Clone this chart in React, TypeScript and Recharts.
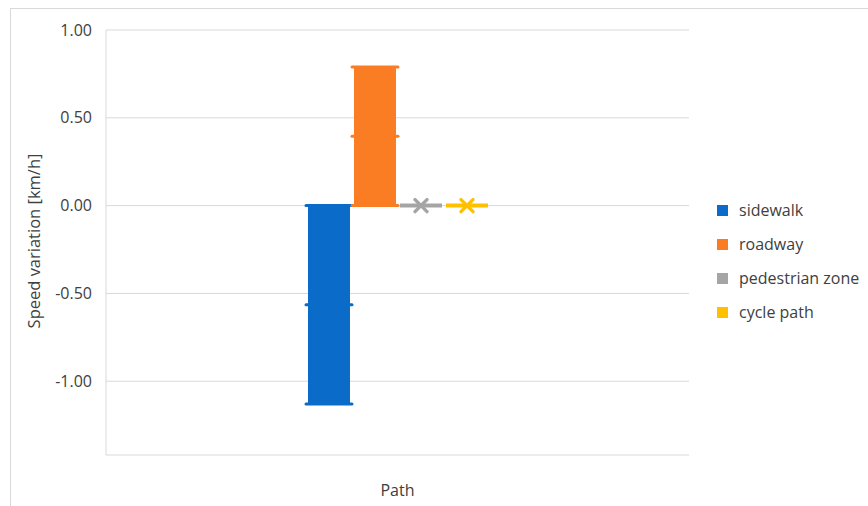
import { BarChart, Bar, XAxis, YAxis, CartesianGrid, Legend } from "recharts";

// values
const categories = ["Path"];
const seriesNames = ["sidewalk", "roadway", "pedestrian zone", "cycle path"];
const sidewalk = [-1.13];
const roadway = [0.79];
const pedestrianZone = [0];
const cyclePath = [0];
const yTicks = [-1, -0.5, 0, 0.5, 1];

const colors = ["#0a6cc8", "#fa7d24", "#a5a5a5", "#ffc000"];
const keys = ["sidewalk", "roadway", "pedestrianZone", "cyclePath"];
const FONT = "'Open Sans', sans-serif";

const data = categories.map((name, i) => ({
  name,
  sidewalk: sidewalk[i],
  roadway: roadway[i],
  pedestrianZone: pedestrianZone[i],
  cyclePath: cyclePath[i],
}));

// bar drawn like Excel thick-line marker style: body + caps, or flat line with an X for zero
const BarShape = (props: any) => {
  const { x, y, width, height, fill } = props;
  const top = Math.min(y, y + height);
  const h = Math.abs(height);
  if (h < 1) {
    const cx = x + width / 2;
    const s = 6;
    return (
      <g>
        <line x1={x} x2={x + width} y1={y} y2={y} stroke={fill} strokeWidth={4} />
        <line x1={cx - s} x2={cx + s} y1={y - s} y2={y + s} stroke={fill} strokeWidth={3.5} strokeLinecap="round" />
        <line x1={cx - s} x2={cx + s} y1={y + s} y2={y - s} stroke={fill} strokeWidth={3.5} strokeLinecap="round" />
      </g>
    );
  }
  const capY = [top, top + h / 2, top + h];
  return (
    <g>
      <rect x={x} y={top} width={width} height={h} fill={fill} />
      {capY.map((cy, i) => (
        <line key={i} x1={x - 2} x2={x + width + 2} y1={cy} y2={cy} stroke={fill} strokeWidth={3} strokeLinecap="round" />
      ))}
    </g>
  );
};

const LegendBox = (props: any) => {
  const items = [...(props.payload || [])].sort(
    (a: any, b: any) => seriesNames.indexOf(a.value) - seriesNames.indexOf(b.value)
  );
  return (
    <div style={{ fontFamily: FONT, fontSize: 16, color: "#404040" }}>
      {items.map((item: any) => (
        <div key={item.value} style={{ display: "flex", alignItems: "center", height: 34 }}>
          <span style={{ display: "inline-block", width: 11, height: 11, background: item.color, marginRight: 11 }} />
          {item.value}
        </div>
      ))}
    </div>
  );
};

export default function App() {
  return (
    <div style={{ position: "absolute", left: 0, top: 0, width: 868, height: 506, overflow: "hidden", background: "#fff" }}>
      <div style={{ position: "absolute", left: 10, top: 8, width: 900, height: 520, border: "1px solid #d9d9d9" }} />
      <div style={{ position: "absolute", left: 0, top: 0 }}>
        <BarChart
          width={868}
          height={506}
          data={data}
          margin={{ top: 30, right: 29, left: 0, bottom: 6 }}
          barSize={42}
          barGap={4}
        >
          <CartesianGrid vertical={false} stroke="#d9d9d9" />
          <XAxis
            dataKey="name"
            tick={false}
            axisLine={false}
            tickLine={false}
            height={45}
            label={{ value: "Path", position: "insideBottom", offset: 4, style: { fontFamily: FONT, fontSize: 16, fill: "#404040" } }}
          />
          <YAxis
            width={106}
            domain={[-1.42, 1]}
            ticks={yTicks}
            tickFormatter={(v: number) => v.toFixed(2)}
            tickSize={0}
            tickMargin={14}
            tickLine={false}
            axisLine={{ stroke: "#d9d9d9" }}
            tick={{ fontFamily: FONT, fontSize: 16, fill: "#404040" }}
            label={{
              content: () => (
                <text
                  x={33}
                  y={241}
                  transform="rotate(-90 33 241)"
                  textAnchor="middle"
                  dominantBaseline="central"
                  style={{ fontFamily: FONT, fontSize: 16.5, fill: "#404040" }}
                >
                  Speed variation [km/h]
                </text>
              ),
            }}
          />
          <Legend
            layout="vertical"
            align="right"
            verticalAlign="top"
            content={<LegendBox />}
            wrapperStyle={{ left: 717, top: 193, width: 150 }}
          />
          {keys.map((k, i) => (
            <Bar key={k} dataKey={k} name={seriesNames[i]} fill={colors[i]} shape={<BarShape />} isAnimationActive={false} />
          ))}
        </BarChart>
      </div>
    </div>
  );
}
